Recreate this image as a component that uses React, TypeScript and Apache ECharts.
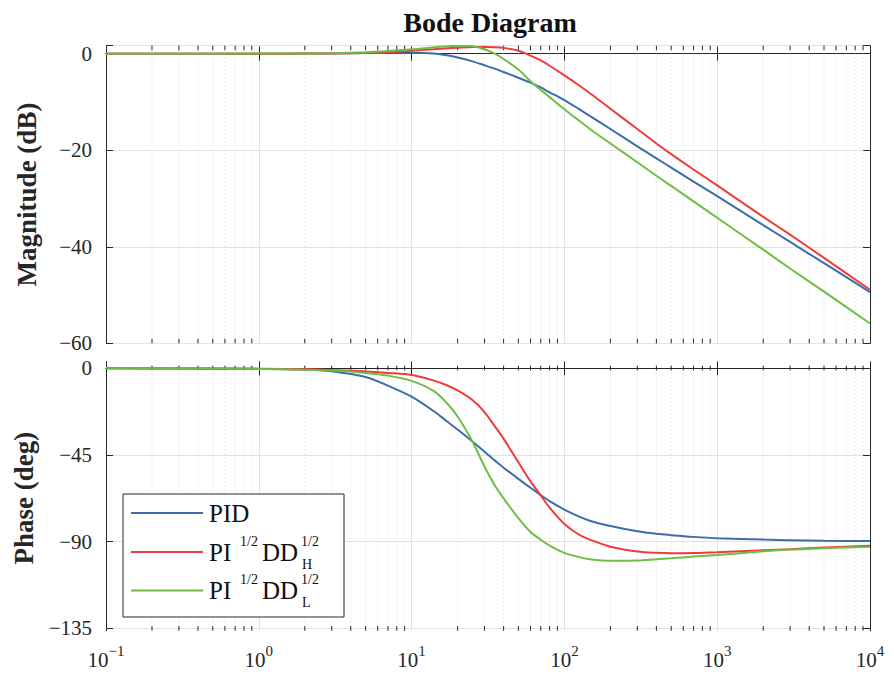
import React, { useEffect, useRef } from 'react';
import * as echarts from 'echarts';

// ---------- data ----------
const FREQ = [0.1, 0.3, 1, 2, 3, 5, 7, 10, 14, 17, 20, 25, 30, 35, 40, 50, 60, 70, 80, 100, 125, 150, 200, 300, 400, 500, 700, 1000, 2000, 3000, 5000, 10000];

const MAG_PID = [0, 0, 0, 0.02, 0.05, 0.12, 0.18, 0.2, 0.05, -0.35, -0.8, -1.6, -2.4, -3.1, -3.8, -5.0, -6.0, -7.0, -8.0, -9.6, -11.5, -13.1, -15.6, -19.2, -21.7, -23.6, -26.5, -29.5, -35.5, -39.0, -43.4, -49.4];
const MAG_H = [0, 0, 0, 0.02, 0.05, 0.15, 0.3, 0.6, 0.9, 1.1, 1.25, 1.4, 1.4, 1.35, 1.2, 0.6, -0.4, -1.4, -2.5, -4.5, -6.6, -8.4, -11.4, -15.6, -18.6, -20.8, -24.0, -27.3, -33.8, -37.5, -42.3, -48.9];
const MAG_L = [0, 0, 0.02, 0.05, 0.1, 0.3, 0.55, 0.9, 1.35, 1.55, 1.62, 1.55, 0.9, 0.0, -1.1, -3.3, -5.7, -7.5, -9.0, -11.5, -13.9, -15.8, -18.6, -22.5, -25.3, -27.4, -30.6, -34.0, -40.6, -44.5, -49.3, -55.9];

const PH_PID = [0, -0.1, -0.3, -0.6, -1.5, -4.5, -9.0, -14.7, -22.3, -27.5, -31.8, -38.0, -43.3, -47.8, -51.6, -57.4, -62.0, -65.8, -68.9, -73.3, -77.0, -79.4, -81.9, -84.6, -85.9, -86.6, -87.5, -88.2, -88.9, -89.2, -89.5, -89.7];
const PH_H = [0, -0.05, -0.2, -0.5, -0.9, -1.6, -2.4, -3.5, -6.4, -8.8, -11.5, -16.5, -22.7, -30.0, -36.5, -48.8, -58.7, -66.0, -72.3, -80.8, -86.4, -89.2, -92.6, -95.1, -95.8, -96.0, -95.9, -95.5, -94.5, -93.9, -93.0, -92.1];
const PH_L = [0, -0.05, -0.3, -0.7, -1.2, -2.4, -3.8, -6.5, -11.8, -18.0, -25.0, -38.0, -51.0, -60.7, -67.5, -77.8, -85.0, -89.0, -92.0, -95.8, -98.0, -99.2, -99.9, -99.8, -99.1, -98.6, -97.7, -96.9, -95.0, -94.1, -93.4, -92.6];

const SERIES_NAMES = ['PID', 'PI 1/2DD 1/2 H', 'PI 1/2DD 1/2 L'];
const COLORS = ['#3B6EA9', '#EF3B3B', '#6EBE45'];

const MAG_TICKS = [-60, -40, -20, 0];
const PHASE_TICKS = [-135, -90, -45, 0];
const DECADES = [0.1, 1, 10, 100, 1000];
const MINOR_MULT = [2, 3, 4, 5, 6, 7, 8, 9];

const FONT = 'Liberation Serif';
const INK = '#262626';

const minorTicks: number[] = [];
DECADES.forEach((d) => MINOR_MULT.forEach((m) => minorTicks.push(+(d * m).toPrecision(3))));

const fmtNum = (v: number) => (v < 0 ? '\u2212' + Math.abs(v) : String(v));

export default function App() {
  const ref = useRef<HTMLDivElement>(null);

  useEffect(() => {
    document.body.style.margin = '0';
    if (!ref.current) return;
    const chart = echarts.init(ref.current, null, { renderer: 'svg' });

    const grids = [
      { left: 106, top: 45.7, width: 764, height: 297.6 },
      { left: 106, top: 365.7, width: 764, height: 265 },
    ];

    const xAxes: any[] = [];
    const yAxes: any[] = [];
    [0, 1].forEach((g) => {
      xAxes.push({
        type: 'log', logBase: 10, min: 0.1, max: 10000, gridIndex: g, position: 'bottom',
        axisLine: { show: true, lineStyle: { color: INK, width: 1 } },
        axisTick: { show: true, inside: true, length: 7, lineStyle: { color: INK } },
        splitLine: { show: true, lineStyle: { color: '#e2e2e2', width: 1 } },
        axisLabel: {
          show: g === 1, margin: 13, fontFamily: FONT,
          formatter: (v: number) => {
            const e = Math.round(Math.log10(v));
            return `{b|10}{s|${e < 0 ? '\u2212' + -e : e}}`;
          },
          rich: {
            b: { fontSize: 21, fontFamily: FONT, color: INK, padding: [6, 0, 0, 0] },
            s: { fontSize: 15, fontFamily: FONT, color: INK, verticalAlign: 'top' },
          },
        },
      });
      xAxes.push({
        type: 'log', logBase: 10, min: 0.1, max: 10000, gridIndex: g, position: 'top',
        axisLine: { show: true, lineStyle: { color: INK, width: 1 } },
        axisTick: { show: true, inside: true, length: 7, lineStyle: { color: INK } },
        splitLine: { show: false }, axisLabel: { show: false },
      });
    });

    const magLabel = (v: number) => (MAG_TICKS.includes(v) ? fmtNum(v) : '');
    yAxes.push({
      type: 'value', gridIndex: 0, min: -60, max: 1.65, interval: 20, position: 'left',
      name: 'Magnitude (dB)', nameLocation: 'middle', nameGap: 66, nameRotate: 90,
      nameTextStyle: { fontFamily: FONT, fontWeight: 'bold', fontSize: 27, color: INK },
      axisLine: { show: true, lineStyle: { color: INK } },
      axisTick: { show: true, inside: true, length: 7, lineStyle: { color: INK } },
      splitLine: { show: true, lineStyle: { color: '#e2e2e2' } },
      axisLabel: { fontFamily: FONT, fontSize: 21, color: INK, margin: 14, formatter: magLabel },
    });
    yAxes.push({
      type: 'value', gridIndex: 0, min: -60, max: 1.65, interval: 20, position: 'right',
      axisLine: { show: true, lineStyle: { color: INK } },
      axisTick: { show: true, inside: true, length: 7, lineStyle: { color: INK } },
      splitLine: { show: false }, axisLabel: { show: false },
    });
    yAxes.push({
      type: 'value', gridIndex: 1, min: -136.2, max: 1.35, position: 'left',
      name: 'Phase (deg)', nameLocation: 'middle', nameGap: 66, nameRotate: 90,
      nameTextStyle: { fontFamily: FONT, fontWeight: 'bold', fontSize: 27, color: INK },
      axisLine: { show: true, lineStyle: { color: INK } },
      axisTick: { show: true, inside: true, length: 7, lineStyle: { color: INK }, customValues: PHASE_TICKS },
      splitLine: { show: true, lineStyle: { color: '#e2e2e2' } },
      axisLabel: { fontFamily: FONT, fontSize: 21, color: INK, margin: 14, customValues: PHASE_TICKS, formatter: (v: number) => fmtNum(v) },
    });
    yAxes.push({
      type: 'value', gridIndex: 1, min: -136.2, max: 1.35, position: 'right',
      axisLine: { show: true, lineStyle: { color: INK } },
      axisTick: { show: true, inside: true, length: 7, lineStyle: { color: INK }, customValues: PHASE_TICKS },
      splitLine: { show: false }, axisLabel: { show: false },
    });

    const minorSeries = (g: number, yv: number) => ({
      type: 'custom', xAxisIndex: g * 2, yAxisIndex: g * 2, silent: true, z: 1,
      data: minorTicks.map((m) => [m, yv]),
      renderItem: (params: any, api: any) => {
        const x = api.coord([api.value(0), api.value(1)])[0];
        const cs = params.coordSys;
        return {
          type: 'group',
          children: [
            { type: 'line', shape: { x1: x, y1: cs.y, x2: x, y2: cs.y + cs.height }, style: { stroke: '#d4d4d4', lineWidth: 1, lineDash: [1, 3] } },
            { type: 'line', shape: { x1: x, y1: cs.y + cs.height, x2: x, y2: cs.y + cs.height - 4.5 }, style: { stroke: INK, lineWidth: 1 } },
            { type: 'line', shape: { x1: x, y1: cs.y, x2: x, y2: cs.y + 4.5 }, style: { stroke: INK, lineWidth: 1 } },
          ],
        };
      },
    });

    const line = (name: string, color: string, g: number, ys: number[]) => ({
      type: 'line', name, xAxisIndex: g * 2, yAxisIndex: g * 2, z: 3,
      showSymbol: false, smooth: 0.3,
      lineStyle: { color, width: 2 }, itemStyle: { color },
      data: FREQ.map((f, i) => [f, ys[i]]),
    });

    const lt = (x: number, y: number, text: string, size: number) => ({
      type: 'text', x, y, z: 101,
      style: { text, font: `${size}px "Liberation Serif", serif`, fontFamily: FONT, fontSize: size, fill: '#111', align: 'left', verticalAlign: 'middle' },
    });

    const legendRows = [513, 552, 590.5];
    const graphic: any[] = [
      { type: 'rect', z: 100, shape: { x: 123, y: 494, width: 221, height: 123 }, style: { fill: '#fff', stroke: INK, lineWidth: 1 } },
    ];
    legendRows.forEach((y, i) => {
      graphic.push({ type: 'line', z: 101, shape: { x1: 131, y1: y, x2: 203, y2: y }, style: { stroke: COLORS[i], lineWidth: 2 } });
    });
    graphic.push(lt(209, legendRows[0], 'PID', 25));
    [1, 2].forEach((i) => {
      const y = legendRows[i];
      graphic.push(lt(209, y, 'PI', 25));
      graphic.push(lt(240, y - 11, '1/2', 14));
      graphic.push(lt(262, y, 'DD', 25));
      graphic.push(lt(301, y - 11, '1/2', 14));
      graphic.push(lt(302, y + 12, i === 1 ? 'H' : 'L', 14));
    });

    chart.setOption({
      animation: false,
      backgroundColor: '#ffffff',
      textStyle: { fontFamily: FONT },
      title: {
        text: 'Bode Diagram', left: 485, top: 3, textAlign: 'center',
        textStyle: { fontFamily: FONT, fontWeight: 'bold', fontSize: 28, color: '#111' },
      },
      grid: grids,
      xAxis: xAxes,
      yAxis: yAxes,
      series: [
        minorSeries(0, -30),
        minorSeries(1, -60),
        line(SERIES_NAMES[0], COLORS[0], 0, MAG_PID),
        line(SERIES_NAMES[1], COLORS[1], 0, MAG_H),
        line(SERIES_NAMES[2], COLORS[2], 0, MAG_L),
        line(SERIES_NAMES[0], COLORS[0], 1, PH_PID),
        line(SERIES_NAMES[1], COLORS[1], 1, PH_H),
        line(SERIES_NAMES[2], COLORS[2], 1, PH_L),
      ],
      graphic,
    });

    return () => chart.dispose();
  }, []);

  return <div ref={ref} style={{ width: 894, height: 678 }} />;
}
